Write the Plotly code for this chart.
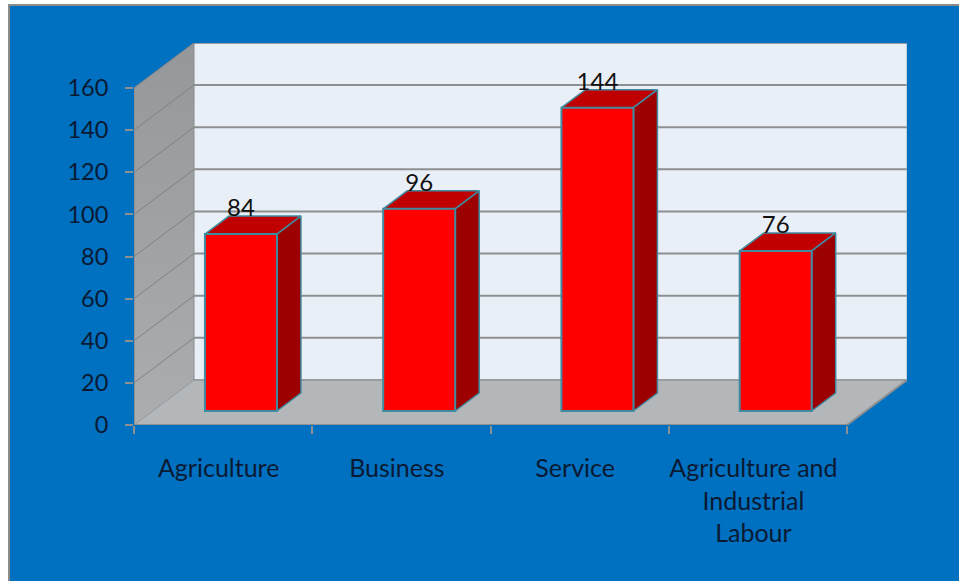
import plotly.graph_objects as go

# Survey data
categories = ["Agriculture", "Business", "Service", "Agriculture and<br>Industrial<br>Labour"]
values = [84, 96, 144, 76]
y_ticks = [0, 20, 40, 60, 80, 100, 120, 140, 160]

# Oblique projection, expressed in axis units
WALL_DX, WALL_DY = 0.3366, 21.37      # depth of the chart box
FRONT_DX, FRONT_DY = 0.105, 6.65      # where bars stand on the floor
BAR_DX, BAR_DY = 0.1346, 8.55         # depth of one bar
BAR_W = 0.404
N = len(categories)
Y_MAX = y_ticks[-1]

FONT = "Lato, Carlito, sans-serif"
INK = "#0A1A33"
GRID = "#8E8F90"
EDGE = "#3F8BA0"
L, R, T, B = 134, 52, 43, 156

fig = go.Figure()


def poly(xs, ys, fill=None, line=None, width=0, z=0, **kw):
    fig.add_trace(go.Scatter(
        x=xs, y=ys, mode="lines", hoverinfo="skip", showlegend=False, zorder=z,
        fill="toself" if fill else None, fillcolor=fill,
        line=dict(color=line or "rgba(0,0,0,0)", width=width), **kw))


# Chart box: back wall, floor, side wall
poly([WALL_DX, N + WALL_DX, N + WALL_DX, WALL_DX],
     [WALL_DY, WALL_DY, Y_MAX + WALL_DY, Y_MAX + WALL_DY], fill="#E9EFF7", z=0)
poly([0, N, N + WALL_DX, WALL_DX], [0, 0, WALL_DY, WALL_DY], fill="#B4B7BA", z=0)
poly([0, WALL_DX, WALL_DX, 0], [0, WALL_DY, Y_MAX + WALL_DY, Y_MAX], fill="#A0A3A5", z=0,
     fillgradient=dict(type="vertical",
                       colorscale=[[0, "#ABADAF"], [1, "#94989A"]]))

# Gridlines run along the side wall, then across the back wall
for v in y_ticks[1:]:
    poly([0, WALL_DX], [v, v + WALL_DY], line="#7F8183", width=1, z=1)
    poly([WALL_DX, N + WALL_DX], [v + WALL_DY, v + WALL_DY], line=GRID, width=2, z=1)
poly([WALL_DX, N + WALL_DX], [Y_MAX + WALL_DY] * 2, line="#9A9C9E", width=2, z=1)
poly([WALL_DX, N + WALL_DX], [WALL_DY, WALL_DY], line="#9A9C9E", width=2, z=1)
poly([WALL_DX, WALL_DX], [WALL_DY, Y_MAX + WALL_DY], line="#8A8C8E", width=1, z=1)
poly([N + WALL_DX, N + WALL_DX], [WALL_DY, Y_MAX + WALL_DY], line="#9FB0C0", width=1, z=1)
poly([0, WALL_DX], [0, WALL_DY], line="#9A9C9E", width=1, z=1)
poly([0, WALL_DX], [Y_MAX, Y_MAX + WALL_DY], line="#8A8C8E", width=1, z=1)

# Axis lines
poly([0, 0], [0, Y_MAX], line=GRID, width=2, z=1)
poly([0, N], [0, 0], line=GRID, width=2, z=1)
poly([N, N + WALL_DX], [0, WALL_DY], line=GRID, width=2, z=1)

# Front faces of the bars
centres = [i + 0.5 + FRONT_DX - 0.005 for i in range(N)]
fig.add_trace(go.Bar(
    x=centres, y=values, base=[FRONT_DY] * N, width=BAR_W, zorder=3,
    marker=dict(color="#FF0000", line=dict(color=EDGE, width=2)),
    hoverinfo="skip", showlegend=False))

# Top and side faces of the bars
for c, v in zip(centres, values):
    x0, x1 = c - BAR_W / 2, c + BAR_W / 2
    y0, y1 = FRONT_DY, FRONT_DY + v
    poly([x0, x1, x1 + BAR_DX, x0 + BAR_DX, x0],
         [y1, y1, y1 + BAR_DY, y1 + BAR_DY, y1], fill="#C00000", line=EDGE, width=1.5, z=2)
    poly([x1, x1 + BAR_DX, x1 + BAR_DX, x1, x1],
         [y0, y0 + BAR_DY, y1 + BAR_DY, y1, y0], fill="#9C0000", line=EDGE, width=1.5, z=2)

# Value labels
fig.add_trace(go.Scatter(
    x=centres, y=[FRONT_DY + v + 11.3 for v in values], mode="text",
    text=[str(v) for v in values], textposition="middle center", zorder=4,
    textfont=dict(family=FONT, size=24, color="#111111"),
    hoverinfo="skip", showlegend=False, cliponaxis=False))

# Slide background with its thin grey edge
frame = dict(xref="paper", yref="paper", layer="below", line=dict(color="#8C8C8C", width=2),
             fillcolor="#0070C0",
             x0=(9 - L) / (959 - L - R), x1=(975 - L) / (959 - L - R),
             y0=-(B + 20) / (581 - T - B), y1=1 + (T - 5) / (581 - T - B))

fig.update_layout(
    width=959, height=581, autosize=False,
    margin=dict(l=L, r=R, t=T, b=B),
    paper_bgcolor="#FFFFFF", plot_bgcolor="rgba(0,0,0,0)",
    font=dict(family=FONT, size=24, color=INK),
    showlegend=False, shapes=[frame],
    xaxis=dict(
        range=[0, N + WALL_DX], showgrid=False, zeroline=False, showline=False,
        tickmode="array", tickvals=[i + 0.475 for i in range(N)], ticktext=categories,
        tickfont=dict(family=FONT, size=25, color=INK),
        ticks="", ticklabelstandoff=26, tickangle=0,
        minor=dict(tickmode="array", tickvals=list(range(N + 1)), ticks="outside",
                   ticklen=8, tickwidth=2, tickcolor=GRID, showgrid=False),
    ),
    yaxis=dict(
        range=[0, Y_MAX + WALL_DY], showgrid=False, zeroline=False, showline=False,
        tickmode="array", tickvals=y_ticks, ticks="outside", ticklen=8, tickwidth=2,
        tickcolor=GRID, ticklabelstandoff=12,
        tickfont=dict(family=FONT, size=23.5, color=INK),
    ),
)

fig.write_html("out.html")
